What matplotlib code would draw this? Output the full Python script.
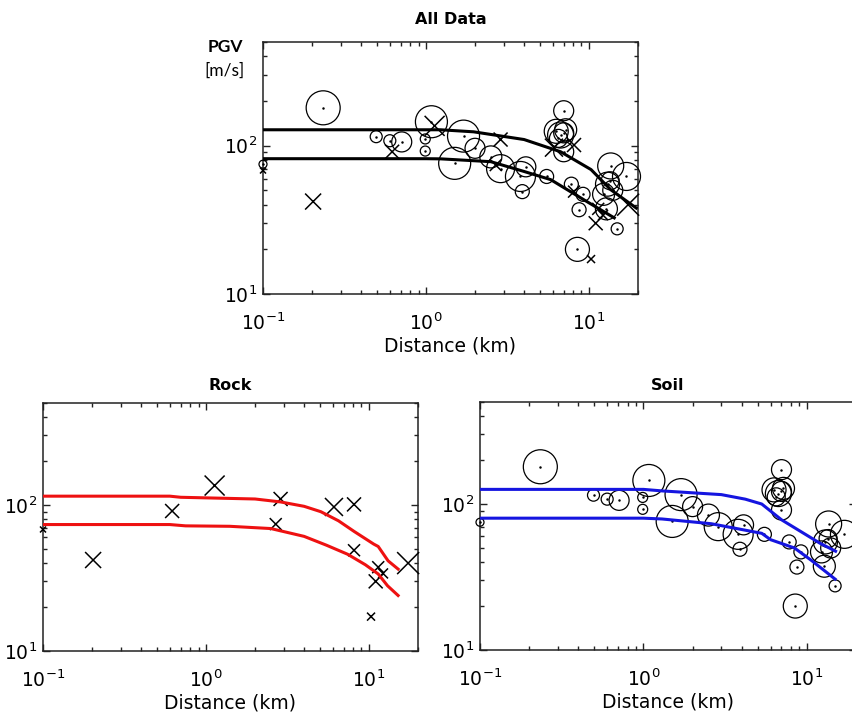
import matplotlib
matplotlib.use("Agg")
import matplotlib.pyplot as plt
from matplotlib.ticker import LogLocator, NullFormatter

# Soil stations: distance (km), PGV, marker radius
soil_dist = [0.1, 0.234, 0.495, 0.60, 0.71, 1.08, 0.99, 0.99, 1.5, 1.7, 2.0, 2.5,
             2.87, 4.1, 3.8, 3.9, 5.5, 6.3, 6.7, 7.0, 6.5, 7.2, 7.0, 7.0, 7.8,
             8.7, 8.5, 14.9, 9.2, 12.8, 12.3, 13.6, 13.0, 14.0, 13.5, 17.0]
soil_pgv = [75, 180, 115, 108, 106, 145, 111, 92, 76, 116, 96, 84,
            70, 72, 62, 49, 62, 125, 118, 122, 112, 128, 172, 91, 55,
            37, 20, 27.5, 47, 37.5, 47, 73, 55, 50, 58, 62]
soil_size = [4, 17, 6, 6, 10, 16, 5, 5, 16, 16, 10, 11,
             14, 10, 15, 7, 7, 12, 13, 10, 9, 11, 10, 10, 7,
             7, 12, 6, 7, 11, 11, 13, 12, 10, 9, 14]

# Rock stations: distance (km), PGV, marker half-width
rock_dist = [0.1, 0.203, 0.62, 1.13, 2.87, 2.68, 6.1, 8.1, 8.1, 11.4, 12.2, 11.0, 17.4, 10.3]
rock_pgv = [68, 42, 91, 136, 110, 74, 97, 101, 49, 37.5, 34, 30, 40, 17.2]
rock_size = [3, 8, 7, 10, 7, 6, 9, 7, 6, 6, 5, 7, 11, 4]

# fitted attenuation curves (upper / lower)
all_up_d = [0.1, 1.0, 1.23, 1.96, 4.0, 6.7, 10.3, 13.6, 19.5]
all_up_v = [128, 128, 128, 124, 110, 91, 69, 50.5, 38]
all_lo_d = [0.1, 1.0, 1.23, 2.5, 4.0, 5.83, 9.3, 14.3]
all_lo_v = [81.7, 81.7, 81.5, 78, 67, 59, 43.2, 32.6]

rock_up_d = [0.1, 0.6, 0.7, 1.4, 2.0, 2.87, 4.0, 5.07, 6.5, 8.1, 10.7, 11.4, 13.1, 15.1]
rock_up_v = [115, 115, 113, 111, 110, 105, 98, 90, 78, 66, 54, 52, 41.5, 36.4]
rock_lo_d = [0.1, 0.6, 0.75, 1.4, 2.5, 4.0, 5.5, 7.4, 9.5, 11.4, 13.0, 15.1]
rock_lo_v = [73.5, 73.5, 72, 71.5, 69, 61, 53, 46, 39, 33.7, 28, 24]

soil_up_d = [0.1, 1.0, 1.3, 3.0, 4.2, 5.3, 7.0, 9.8, 12.0, 15.0]
soil_up_v = [126, 126, 123, 116, 108, 100, 78, 62, 54, 47.5]
soil_lo_d = [0.1, 1.0, 1.3, 2.6, 5.3, 6.0, 8.4, 10.7, 14.9]
soil_lo_v = [80, 80, 79, 73.3, 63, 57, 50, 41, 30.6]

plt.rcParams['font.family'] = 'DejaVu Sans'
plt.rcParams['mathtext.fontset'] = 'dejavusans'

W, H = 853, 713
fig = plt.figure(figsize=(W / 100, H / 100), dpi=100)


def px_axes(x0, y0, x1, y1):
    return fig.add_axes([x0 / W, 1 - y1 / H, (x1 - x0) / W, (y1 - y0) / H])


def draw_soil(ax):
    s = [(1.44 * r) ** 2 for r in soil_size]
    ax.scatter(soil_dist, soil_pgv, s=s, facecolors='none', edgecolors='black',
               linewidths=0.9, clip_on=False, zorder=3)
    ax.scatter(soil_dist, soil_pgv, s=0.6, color='black', clip_on=False, zorder=3)


def draw_rock(ax):
    s = [(1.44 * r) ** 2 for r in rock_size]
    ax.scatter(rock_dist, rock_pgv, s=s, marker='x', color='black',
               linewidths=1.1, clip_on=False, zorder=3)


def style(ax, title, title_pad):
    ax.set_xscale('log')
    ax.set_yscale('log')
    ax.set_xlim(0.1, 20)
    ax.set_ylim(10, 500)
    ax.xaxis.set_major_locator(LogLocator(base=10, numticks=10))
    ax.yaxis.set_major_locator(LogLocator(base=10, numticks=10))
    ax.xaxis.set_minor_locator(LogLocator(base=10, subs=range(2, 10), numticks=20))
    ax.yaxis.set_minor_locator(LogLocator(base=10, subs=range(2, 10), numticks=20))
    ax.xaxis.set_minor_formatter(NullFormatter())
    ax.yaxis.set_minor_formatter(NullFormatter())
    ax.tick_params(which='both', direction='in', top=True, right=True,
                   labelsize=13.5, width=1.0, color='#222222')
    ax.tick_params(axis='x', which='major', pad=13)
    ax.tick_params(axis='y', which='major', pad=4)
    ax.tick_params(which='major', length=5)
    ax.tick_params(which='minor', length=3)
    for sp in ax.spines.values():
        sp.set_linewidth(1.1)
        sp.set_color('#222222')
    ax.set_xlabel('Distance (km)', fontsize=13.5, labelpad=2)
    ax.set_title(title, fontsize=11.5, fontweight='bold', pad=title_pad)


# All data
ax1 = px_axes(263, 42, 638, 294)
draw_soil(ax1)
draw_rock(ax1)
ax1.plot(all_up_d, all_up_v, color='black', lw=2.2, zorder=4)
ax1.plot(all_lo_d, all_lo_v, color='black', lw=2.2, zorder=4)
style(ax1, 'All Data', 13)

# Rock
ax2 = px_axes(43, 403, 418, 651)
draw_rock(ax2)
ax2.plot(rock_up_d, rock_up_v, color='#ee1111', lw=2.2, zorder=4)
ax2.plot(rock_lo_d, rock_lo_v, color='#ee1111', lw=2.2, zorder=4)
style(ax2, 'Rock', 9)

# Soil
ax3 = px_axes(480, 402, 856, 650)
draw_soil(ax3)
ax3.plot(soil_up_d, soil_up_v, color='#1515e0', lw=2.2, zorder=4)
ax3.plot(soil_lo_d, soil_lo_v, color='#1515e0', lw=2.2, zorder=4)
style(ax3, 'Soil', 9)

fig.text(225 / W, 1 - 47 / H, 'PGV', family='Lato', fontweight='bold',
         fontsize=12.5, ha='center', va='center')
fig.text(225 / W, 1 - 71 / H, '[m/s]', family='Lato', fontsize=12.5,
         ha='center', va='center')

fig.savefig('out.png', dpi=100)
